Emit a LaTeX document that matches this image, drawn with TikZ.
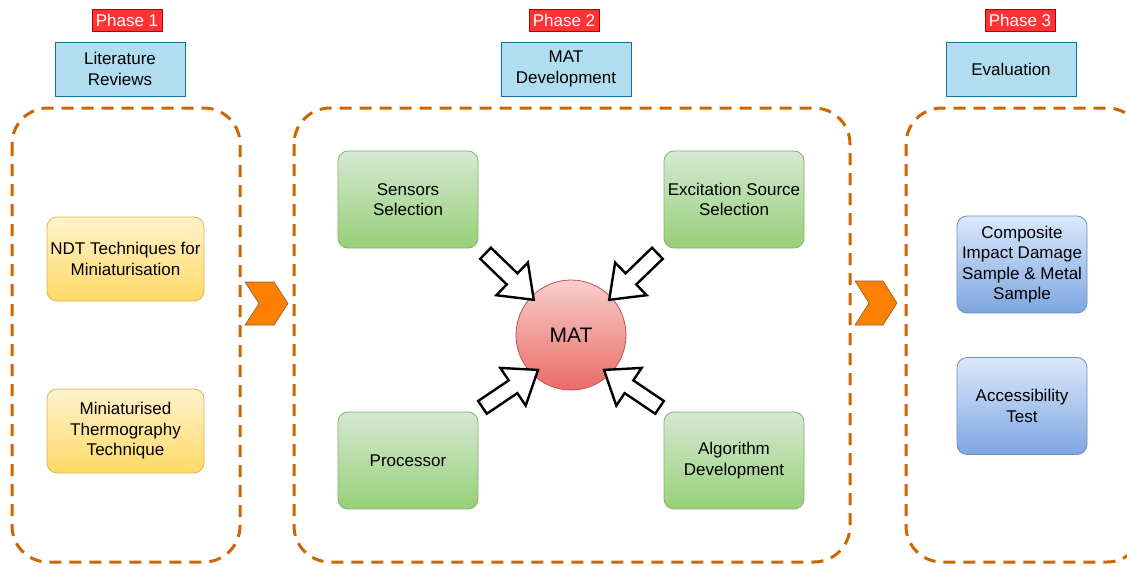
\documentclass[tikz,border=0pt]{standalone}
\usepackage{fontspec}
\setmainfont{Liberation Sans}
\usetikzlibrary{shapes.arrows,shapes.geometric}
\definecolor{phasefill}{HTML}{FF3333}
\definecolor{phaseline}{HTML}{B20000}
\definecolor{hdrfill}{HTML}{B1DDF0}
\definecolor{hdrline}{HTML}{10739E}
\definecolor{dashc}{HTML}{CC6600}
\definecolor{chevfill}{HTML}{FF8000}
\definecolor{chevline}{HTML}{8C5A2E}
\definecolor{gtop}{HTML}{D5E8D4}
\definecolor{gbot}{HTML}{97D077}
\definecolor{gline}{HTML}{82B366}
\definecolor{ytop}{HTML}{FFF2CC}
\definecolor{ybot}{HTML}{FFD966}
\definecolor{yline}{HTML}{D6B656}
\definecolor{btop}{HTML}{DAE8FC}
\definecolor{bbot}{HTML}{7EA6E0}
\definecolor{bline}{HTML}{6C8EBF}
\definecolor{rtop}{HTML}{F8CECC}
\definecolor{rbot}{HTML}{EA6B66}
\definecolor{rline}{HTML}{B85450}
\begin{document}
\begin{tikzpicture}[x=1pt,y=-1pt,
  every node/.style={font=\fontsize{17}{20.5}\selectfont, align=center, inner sep=0pt},
  phasebox/.style={draw=phaseline, fill=phasefill, text=white, minimum width=70, minimum height=22, line width=0.8},
  hdrbox/.style={draw=hdrline, fill=hdrfill, minimum width=130, minimum height=54, line width=0.8},
  container/.style={draw=dashc, line width=3, dash pattern=on 12pt off 8pt, rounded corners=36},
  greenbox/.style={draw=gline, top color=gtop, bottom color=gbot, rounded corners=10, minimum width=140, minimum height=97, line width=0.8},
  yellowbox/.style={draw=yline, top color=ytop, bottom color=ybot, rounded corners=10, minimum width=157, minimum height=84, line width=0.8},
  bluebox/.style={draw=bline, top color=btop, bottom color=bbot, rounded corners=10, minimum width=130, minimum height=97, line width=0.8},
  blockarrow/.style={single arrow, draw=black, fill=white, line width=2.4, inner sep=6.5pt, single arrow head extend=15pt, single arrow tip angle=74, minimum height=67},
  chevron/.style={draw=chevline, fill=chevfill, line width=0.6}
]
\useasboundingbox (0,0) rectangle (1127,565);

% phase labels
\node[phasebox] (p1) at (127,20) {Phase 1};
\node[phasebox] (p2) at (564,20) {Phase 2};
\node[phasebox] (p3) at (1020,20) {Phase 3};

% headers
\node[hdrbox] (h1) at (120,69) {Literature\\Reviews};
\node[hdrbox] (h2) at (566,69) {MAT\\Development};
\node[hdrbox] (h3) at (1011,69) {Evaluation};

% containers
\draw[container] (12,108) rectangle (240,562);
\draw[container] (294,108) rectangle (850,562);
\draw[container] (906,108) rectangle (1143,562);

% chevrons
\draw[chevron] (245,282) -- (274,282) -- (288,303.5) -- (274,325) -- (245,325) -- (259,303.5) -- cycle;
\draw[chevron] (855,281) -- (883,281) -- (897,303) -- (883,325) -- (855,325) -- (869,303) -- cycle;

% phase 1
\node[yellowbox] (ndt) at (125.5,259) {NDT Techniques for\\Miniaturisation};
\node[yellowbox] (mtt) at (125.5,431) {Miniaturised\\Thermography\\Technique};

% phase 2
\node[greenbox] (sens) at (408,199.5) {Sensors\\Selection};
\node[greenbox] (exc) at (734,199.5) {Excitation Source\\Selection};
\node[greenbox] (proc) at (408,460.5) {Processor};
\node[greenbox] (alg) at (734,460.5) {Algorithm\\Development};
\node[circle, draw=rline, top color=rtop, bottom color=rbot, minimum size=110, line width=0.8, font=\fontsize{21}{24}\selectfont] (mat) at (571,335) {MAT};

\node[blockarrow, rotate=-44] (a1) at (506,273) {};
\node[blockarrow, rotate=-136] (a2) at (637,273) {};
\node[blockarrow, rotate=34] (a3) at (506,391.5) {};
\node[blockarrow, rotate=146] (a4) at (636,391.5) {};

% phase 3
\node[bluebox] (comp) at (1022,264.5) {Composite\\Impact Damage\\Sample \& Metal\\Sample};
\node[bluebox] (acc) at (1022,406) {Accessibility\\Test};
\end{tikzpicture}
\end{document}
